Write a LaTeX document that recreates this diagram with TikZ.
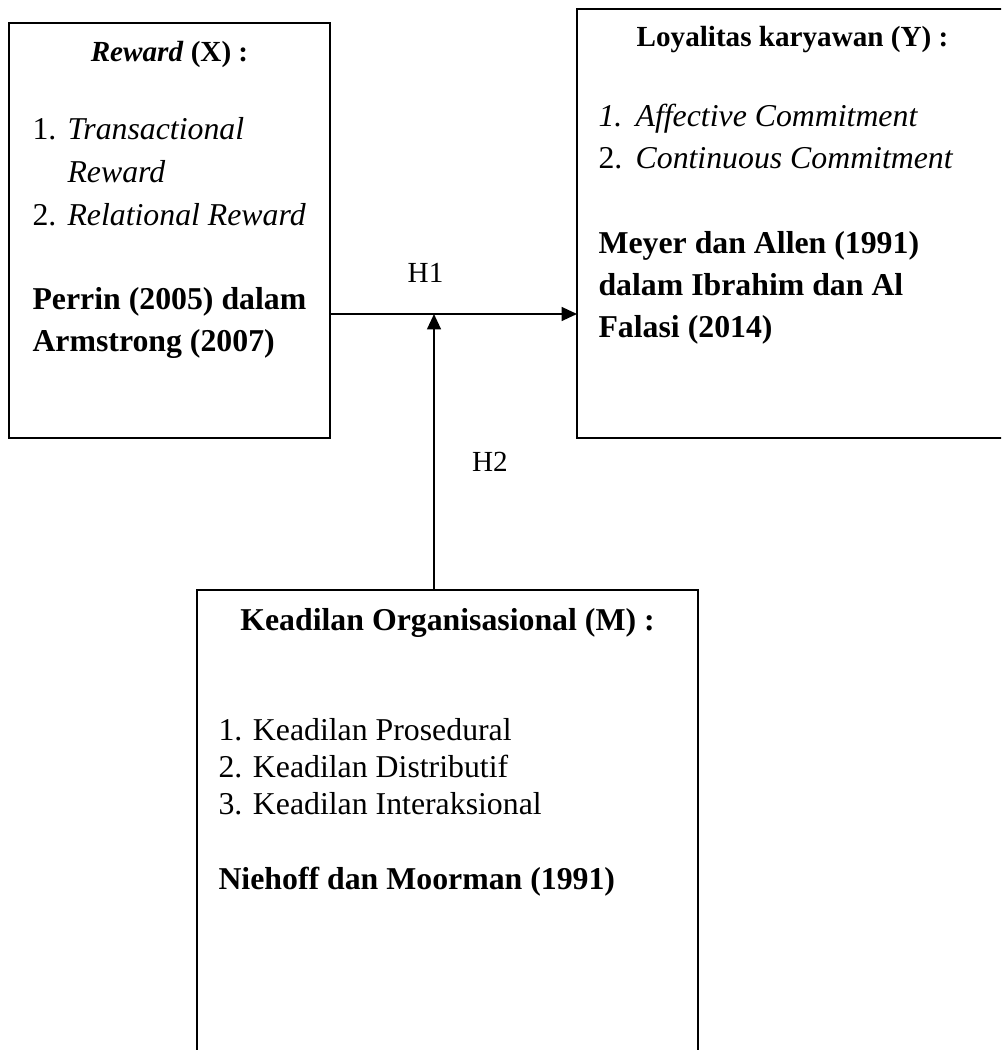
\documentclass[tikz,border=0pt]{standalone}
\usepackage{fontspec}
\setmainfont{Liberation Serif}
\usetikzlibrary{positioning,arrows.meta}

\begin{document}
\begin{tikzpicture}[x=0.3774pt,y=-0.3774pt,
    >={Triangle[length=5.8pt,width=5.2pt]},
    box/.style={draw,line width=0.8pt,inner sep=0pt,outer sep=0pt},
    head/.style={font=\fontsize{11}{13}\selectfont\bfseries,anchor=base,inner sep=0pt},
    items/.style={align=left,anchor=base west,inner sep=0pt},
    link/.style={->,line width=0.75pt},
    hyp/.style={font=\fontsize{11}{13}\selectfont,inner sep=0pt}]
  \useasboundingbox (0,0) rectangle (1001,1050);
  \clip (0,0) rectangle (1001,1050);
  \node[box,minimum width=121pt,minimum height=156.6pt] (reward) at (169.7,230.5) {};
  \node[box,minimum width=163.4pt,minimum height=161.9pt] (loyal) at (793.5,223.5) {};
  \node[box,minimum width=189.1pt,minimum height=184.9pt] (justice) at (447.5,835) {};
  \node[head] (rewardhead) at (169.5,62) {\textit{Reward} (X) :};
  \node[head] (loyalhead) at (792.5,46.7) {Loyalitas karyawan (Y) :};
  \node[head,font=\fontsize{12}{14}\selectfont\bfseries] (justicehead) at (447.5,630)
    {Keadilan Organisasional (M) :};
  \node[items,font=\fontsize{12}{16.2}\selectfont] (rewarditems) at (32,352) {%
    \makebox[13.2pt][l]{1.}\textit{Transactional}\\
    \hspace*{13.2pt}\textit{Reward}\\
    \makebox[13.2pt][l]{2.}\textit{Relational Reward}\\[15.5pt]
    \textbf{Perrin (2005) dalam}\\
    \textbf{Armstrong (2007)}};
  \node[items,font=\fontsize{12}{16}\selectfont] (loyalitems) at (598,338) {%
    \makebox[14pt][l]{\textit{1.}}\textit{Affective Commitment}\\
    \makebox[14pt][l]{2.}\textit{Continuous Commitment}\\[16pt]
    \textbf{Meyer dan Allen (1991)}\\
    \textbf{dalam Ibrahim dan Al}\\
    \textbf{Falasi (2014)}};
  \node[items,font=\fontsize{12}{13.9}\selectfont] (justiceitems) at (218,889.3) {%
    1. Keadilan Prosedural\\
    2. Keadilan Distributif\\
    3. Keadilan Interaksional\\[14.4pt]
    \textbf{Niehoff dan Moorman (1991)}};
  \coordinate (hub) at (434,314);
  \draw[link] (reward.east |- hub) -- (loyal.west |- hub);
  \draw[link] (justice.north -| hub) -- (hub);
  \node[hyp,above=11.7pt of hub,xshift=-3.2pt] (h1) {H1};
  \node[hyp] (h2) at (490,462) {H2};
\end{tikzpicture}
\end{document}
